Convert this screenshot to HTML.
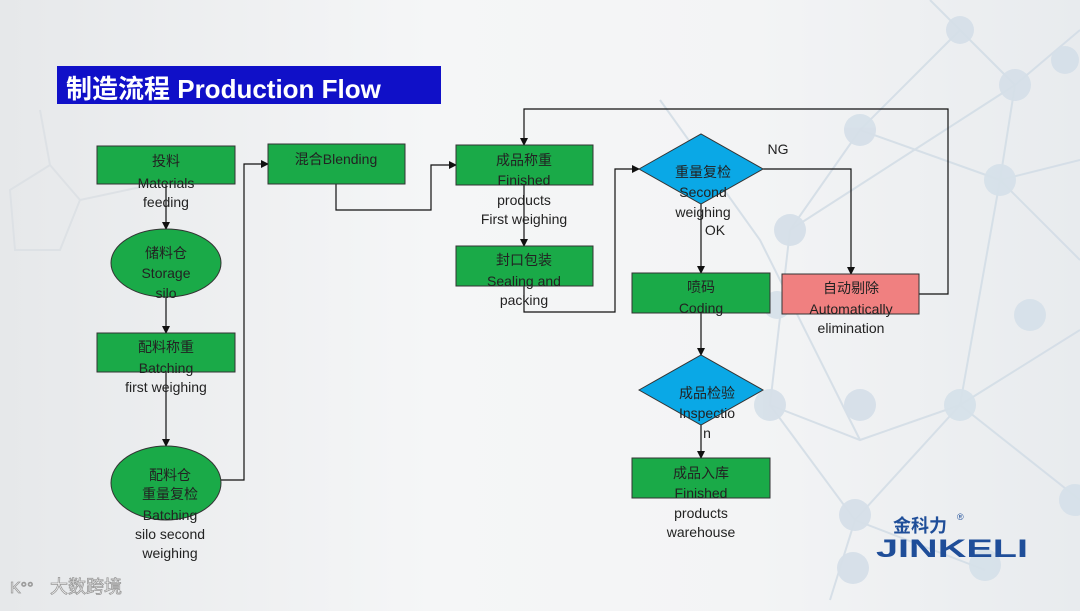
<!DOCTYPE html>
<html><head><meta charset="utf-8"><style>
html,body{margin:0;padding:0;}
body{width:1080px;height:606px;overflow:hidden;background:linear-gradient(90deg,#e6e8ea 0%,#f5f6f7 40%,#f3f4f5 70%,#e8ebee 100%);font-family:"Liberation Sans","Noto Sans CJK SC",sans-serif;}
svg text{font-family:"Liberation Sans","Noto Sans CJK SC",sans-serif;}
</style></head><body>
<svg width="1080" height="606" viewBox="0 0 1080 606" xmlns="http://www.w3.org/2000/svg">
<defs><marker id="a" markerWidth="8" markerHeight="8" refX="7" refY="4" orient="auto" markerUnits="userSpaceOnUse"><path d="M0,0 L8,4 L0,8 z" fill="#111"/></marker></defs>
<g stroke="#d3dde6" stroke-width="2" fill="none" opacity="0.9">
<path d="M930,0 L1015,85 L1080,30 M1015,85 L1000,180 L1080,260 M1000,180 L860,130 L790,230 L770,405 L860,440 L960,405 L1080,500 M860,130 L960,30 M770,405 L855,520 L830,600 M960,405 L1080,330 M855,520 L985,570 M660,100 L760,240 L860,440 M1000,180 L960,405 M790,230 L1015,85 M1080,160 L1000,180 M855,520 L960,405"/>
</g>
<g fill="#d6e0e9" opacity="0.95">
<circle cx="1015" cy="85" r="16"/><circle cx="1000" cy="180" r="16"/><circle cx="860" cy="130" r="16"/><circle cx="790" cy="230" r="16"/><circle cx="770" cy="405" r="16"/><circle cx="860" cy="405" r="16"/><circle cx="960" cy="405" r="16"/><circle cx="1075" cy="500" r="16"/><circle cx="855" cy="515" r="16"/><circle cx="853" cy="568" r="16"/><circle cx="985" cy="565" r="16"/><circle cx="1030" cy="315" r="16"/><circle cx="960" cy="30" r="14"/><circle cx="1065" cy="60" r="14"/><circle cx="777" cy="305" r="14"/>
</g>
<g stroke="#dde1e5" stroke-width="2" fill="none"><path d="M10,190 L50,165 L80,200 L60,250 L15,250 Z M80,200 L150,185 M50,165 L40,110"/></g>
<rect x="57" y="66" width="384" height="38" fill="#1010c8"/>
<text x="66" y="98" font-size="26" font-weight="bold" fill="#fff">制造流程 Production Flow</text>
<g stroke="#111" stroke-width="1.2" fill="none">
<path d="M166,184 V229" marker-end="url(#a)"/>
<path d="M166,297 V333" marker-end="url(#a)"/>
<path d="M166,372 V446" marker-end="url(#a)"/>
<path d="M221,480 H244 V164 H268" marker-end="url(#a)"/>
<path d="M336,184 V210 H431 V165 H456" marker-end="url(#a)"/>
<path d="M524,185 V246" marker-end="url(#a)"/>
<path d="M524,286 V312 H615 V169 H639" marker-end="url(#a)"/>
<path d="M763,169 H851 V274" marker-end="url(#a)"/>
<path d="M701,204 V273" marker-end="url(#a)"/>
<path d="M701,313 V355" marker-end="url(#a)"/>
<path d="M701,425 V458" marker-end="url(#a)"/>
<path d="M919,294 H948 V109 H524 V145" marker-end="url(#a)"/>
</g>
<g stroke="#333" stroke-width="1" fill="#1aaa48">
<rect x="97" y="146" width="138" height="38"/>
<ellipse cx="166" cy="263" rx="55" ry="34"/>
<rect x="97" y="333" width="138" height="39"/>
<ellipse cx="166" cy="483" rx="55" ry="37"/>
<rect x="268" y="144" width="137" height="40"/>
<rect x="456" y="145" width="137" height="40"/>
<rect x="456" y="246" width="137" height="40"/>
<rect x="632" y="273" width="138" height="40"/>
<rect x="632" y="458" width="138" height="40"/>
<rect x="782" y="274" width="137" height="40" fill="#f08080"/>
<path d="M639,169 L701,134 L763,169 L701,204 Z" fill="#0aa8e6"/>
<path d="M639,390 L701,355 L763,390 L701,425 Z" fill="#0aa8e6"/>
</g>
<g font-size="14" fill="#222" text-anchor="middle">
<text x="166" y="166">投料</text><text x="166" y="188">Materials</text><text x="166" y="207">feeding</text>
<text x="166" y="258">储料仓</text><text x="166" y="278">Storage</text><text x="166" y="298">silo</text>
<text x="166" y="352">配料称重</text><text x="166" y="373">Batching</text><text x="166" y="392">first weighing</text>
<text x="170" y="480">配料仓</text><text x="170" y="499">重量复检</text><text x="170" y="520">Batching</text><text x="170" y="539">silo second</text><text x="170" y="558">weighing</text>
<text x="336" y="164">混合Blending</text>
<text x="524" y="165">成品称重</text><text x="524" y="185">Finished</text><text x="524" y="205">products</text><text x="524" y="224">First weighing</text>
<text x="524" y="265">封口包装</text><text x="524" y="286">Sealing and</text><text x="524" y="305">packing</text>
<text x="703" y="177">重量复检</text><text x="703" y="197">Second</text><text x="703" y="217">weighing</text>
<text x="715" y="235">OK</text><text x="778" y="154">NG</text>
<text x="701" y="292">喷码</text><text x="701" y="313">Coding</text>
<text x="851" y="293">自动剔除</text><text x="851" y="314">Automatically</text><text x="851" y="333">elimination</text>
<text x="707" y="398">成品检验</text><text x="707" y="418">Inspectio</text><text x="707" y="438">n</text>
<text x="701" y="478">成品入库</text><text x="701" y="498">Finished</text><text x="701" y="518">products</text><text x="701" y="537">warehouse</text>
</g>
<text x="893" y="532" font-size="18" font-weight="bold" fill="#1f4e99">金科力</text>
<text x="957" y="520" font-size="9" fill="#1f4e99">®</text>
<text x="876" y="557" font-size="25" font-weight="900" fill="#1f4e99" textLength="152" lengthAdjust="spacingAndGlyphs">JINKELI</text>
<text x="50" y="593" font-size="18" fill="#fff" stroke="#999" stroke-width="0.8">大数跨境</text>
<text x="10" y="593" font-size="16" fill="#fff" stroke="#999" stroke-width="0.8">K°°</text>
</svg>
</body></html>
